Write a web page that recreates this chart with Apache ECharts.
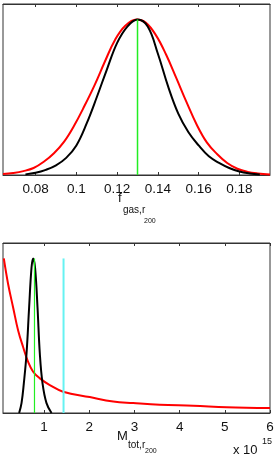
<!DOCTYPE html>
<html><head><meta charset="utf-8">
<script src="https://cdn.jsdelivr.net/npm/echarts@6/dist/echarts.min.js"></script>
<style>html,body{margin:0;padding:0;background:#fff}#c{width:279px;height:458px}</style>
</head><body><div id="c"></div>
<script>
// Top panel: f_gas,r200
const fgasBlackX = [0.075,0.080,0.085,0.090,0.095,0.100,0.105,0.110,0.115,0.120,0.125,0.130,0.135,0.140,0.145,0.150,0.155,0.160,0.165,0.170,0.175,0.180,0.185,0.190];
const fgasBlackY = [0.004,0.014,0.033,0.062,0.11,0.19,0.33,0.5,0.68,0.85,0.955,1.0,0.955,0.78,0.57,0.395,0.275,0.19,0.12,0.078,0.045,0.022,0.01,0.004];
const fgasRedX = [0.064,0.069,0.074,0.079,0.084,0.089,0.094,0.099,0.104,0.109,0.114,0.119,0.124,0.1295,0.134,0.139,0.144,0.149,0.154,0.159,0.164,0.169,0.174,0.179,0.184,0.189,0.195];
const fgasRedY = [0.006,0.013,0.025,0.045,0.085,0.14,0.215,0.32,0.445,0.58,0.73,0.87,0.96,1.0,0.98,0.90,0.775,0.625,0.47,0.325,0.21,0.135,0.077,0.04,0.02,0.01,0.004];
const fgasTrue = 0.13;
const fgasTicks = [0.08,0.1,0.12,0.14,0.16,0.18];
const fgasTickLabels = ['0.08','0.1','0.12','0.14','0.16','0.18'];

// Bottom panel: M_tot,r200 (x 10^15)
const mBlackX = [0.447,0.50,0.551,0.611,0.668,0.721,0.757,0.80,0.854,0.905,0.965,1.053,1.164];
const mBlackY = [0,0.064,0.192,0.385,0.683,0.94,1.0,0.94,0.683,0.385,0.192,0.064,0];
const mRedX = [0.108,0.204,0.314,0.425,0.535,0.646,0.757,0.905,1.126,1.42,2.01,2.53,2.97,3.56,4.30,5.04,6.0];
const mRedY = [1.0,0.833,0.683,0.534,0.427,0.331,0.267,0.224,0.181,0.138,0.103,0.074,0.064,0.053,0.047,0.038,0.032];
const mTrueGreen = 0.787;
const mTrueCyan = 1.43;
const mTicks = [1,2,3,4,5,6];
const mTickLabels = ['1','2','3','4','5','6'];

const zip = (xs, ys) => xs.map((x, i) => [x, ys[i]]);
const FONT = 'Liberation Sans, Arial, Helvetica, sans-serif';

function xAx(gi, min, max, ticks, labels, showLabels, pos) {
  return {
    type: 'value', gridIndex: gi, min: min, max: max, position: pos,
    axisLine: { show: true, onZero: false, lineStyle: { color: '#333', width: 1 } },
    axisTick: { show: true, inside: true, length: 3, customValues: ticks, lineStyle: { color: '#333' } },
    axisLabel: { show: showLabels, customValues: ticks, formatter: v => { const i = ticks.findIndex(t => Math.abs(t - v) < 1e-9); return i >= 0 ? labels[i] : ''; },
      color: '#111', fontSize: 13.5, fontFamily: FONT, margin: 7, showMinLabel: true, showMaxLabel: true },
    splitLine: { show: false }
  };
}
function yAx(gi) {
  return { type: 'value', gridIndex: gi, min: 0, max: 1.1,
    axisLine: { show: false }, axisTick: { show: false }, axisLabel: { show: false }, splitLine: { show: false } };
}
function line(xi, yi, data, color, w) {
  return { type: 'line', xAxisIndex: xi, yAxisIndex: yi, data: data, showSymbol: false, symbol: 'none',
    smooth: 0.4, lineStyle: { color: color, width: w }, silent: true, animation: false };
}

const chart = echarts.init(document.getElementById('c'), null, { renderer: 'canvas' });
chart.setOption({
  animation: false,
  backgroundColor: '#fff',
  grid: [
    { left: 3, right: 9, top: 4, height: 171, show: true, borderColor: '#333', borderWidth: 1, backgroundColor: 'transparent' },
    { left: 3, right: 9, top: 243, height: 170, show: true, borderColor: '#333', borderWidth: 1, backgroundColor: 'transparent' }
  ],
  xAxis: [
    xAx(0, 0.064, 0.195, fgasTicks, fgasTickLabels, true, 'bottom'),
    xAx(0, 0.064, 0.195, fgasTicks, fgasTickLabels, false, 'top'),
    xAx(1, 0.09, 6, mTicks, mTickLabels, true, 'bottom'),
    xAx(1, 0.09, 6, mTicks, mTickLabels, false, 'top')
  ],
  yAxis: [yAx(0), yAx(1)],
  series: [
    line(0, 0, zip(fgasRedX, fgasRedY), '#ff0000', 2),
    line(0, 0, zip(fgasBlackX, fgasBlackY), '#000000', 2),
    { type: 'line', xAxisIndex: 0, yAxisIndex: 0, data: [[fgasTrue, 0], [fgasTrue, 1]], showSymbol: false, silent: true, lineStyle: { color: '#22ee22', width: 1.5 } },
    line(2, 1, zip(mRedX, mRedY), '#ff0000', 2),
    line(2, 1, zip(mBlackX, mBlackY), '#000000', 2),
    { type: 'line', xAxisIndex: 2, yAxisIndex: 1, data: [[mTrueGreen, 0], [mTrueGreen, 1]], showSymbol: false, silent: true, lineStyle: { color: '#22ee22', width: 1.2 } },
    { type: 'line', xAxisIndex: 2, yAxisIndex: 1, data: [[mTrueCyan, 0], [mTrueCyan, 1]], showSymbol: false, silent: true, lineStyle: { color: '#66f2f2', width: 2 } }
  ],
  graphic: [
    { type: 'text', x: 118, y: 198, style: { text: 'f', font: '13px ' + FONT, fill: '#111', verticalAlign: 'middle' } },
    { type: 'text', x: 123, y: 210, style: { text: 'gas,r', font: '10px ' + FONT, fill: '#111', verticalAlign: 'middle' } },
    { type: 'text', x: 144, y: 221, style: { text: '200', font: '7px ' + FONT, fill: '#111', verticalAlign: 'middle' } },
    { type: 'text', x: 117, y: 436, style: { text: 'M', font: '13px ' + FONT, fill: '#111', verticalAlign: 'middle' } },
    { type: 'text', x: 128, y: 445, style: { text: 'tot,r', font: '10px ' + FONT, fill: '#111', verticalAlign: 'middle' } },
    { type: 'text', x: 145, y: 451, style: { text: '200', font: '7px ' + FONT, fill: '#111', verticalAlign: 'middle' } },
    { type: 'text', x: 233, y: 450, style: { text: 'x 10', font: '13px ' + FONT, fill: '#111', verticalAlign: 'middle' } },
    { type: 'text', x: 262, y: 442, style: { text: '15', font: '9px ' + FONT, fill: '#111', verticalAlign: 'middle' } }
  ]
});
</script></body></html>
